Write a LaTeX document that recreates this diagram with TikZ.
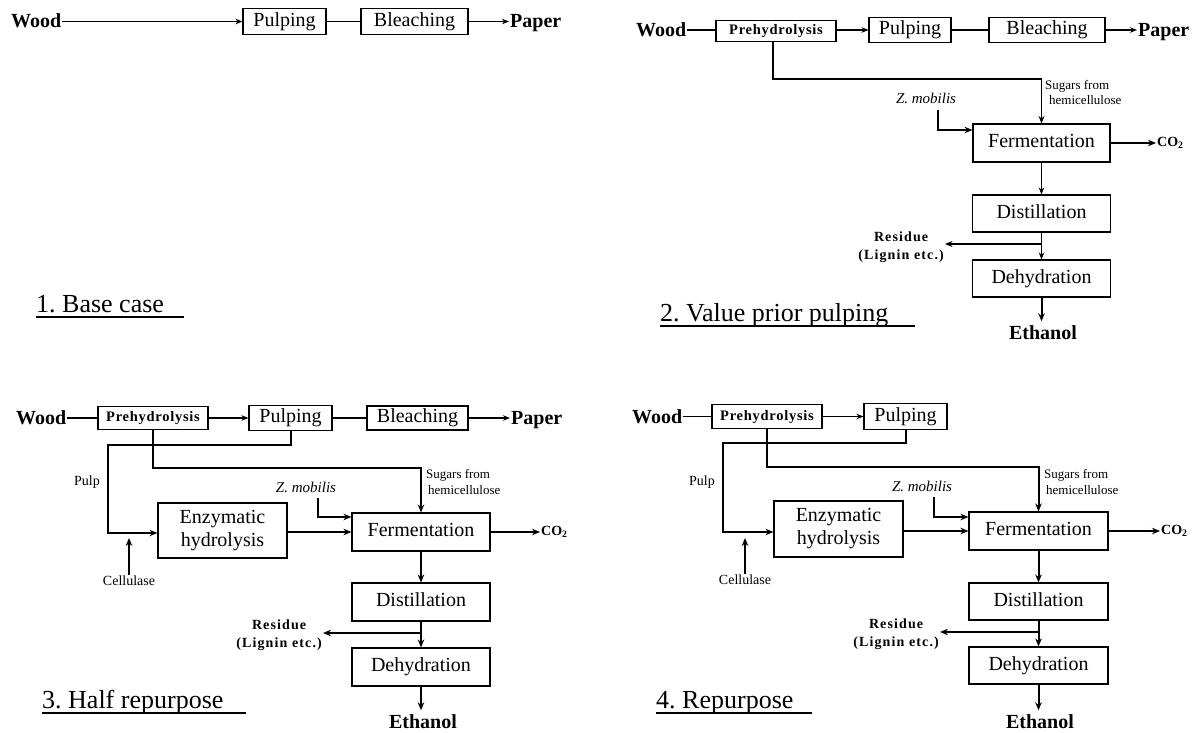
\documentclass[tikz,border=0pt]{standalone}
\usepackage{fontspec}
\setmainfont{Liberation Serif}
\newfontfamily\widefont[LetterSpace=5.0]{Liberation Serif}
\newfontfamily\widerfont[LetterSpace=8.0]{Liberation Serif}
\usetikzlibrary{arrows.meta,calc}
\frenchspacing
\begin{document}
\frenchspacing
\begin{tikzpicture}[x=1pt,y=-1pt,
  bx/.style={draw, line width=1.1pt, inner sep=0pt, font=\fontsize{20}{23}\selectfont},
  box/.style={bx, text height=14pt, text depth=4.5pt},
  pbox/.style={draw, line width=1.1pt, inner sep=0pt, text height=10pt, text depth=3pt, font=\fontsize{14.5}{16}\widefont\bfseries},
  bl/.style={inner sep=1pt, text height=13pt, text depth=0pt, font=\fontsize{20}{22}\selectfont\bfseries},
  sm/.style={inner sep=0pt, font=\fontsize{13}{15}\selectfont},
  lbl/.style={inner sep=1pt, font=\fontsize{14}{16}\selectfont},
  zm/.style={inner sep=0pt, font=\fontsize{15}{17}\selectfont\itshape},
  res/.style={inner sep=1pt, align=center, font=\fontsize{14}{18}\widerfont\bfseries},
  co/.style={inner sep=1pt, font=\fontsize{14}{16}\selectfont\bfseries},
  ttl/.style={inner sep=0pt, anchor=base west, font=\fontsize{26}{30}\selectfont},
  ul/.style={line width=1.3pt},
  thin/.style={line width=1.2pt},
  arr/.style={line width=1.3pt, -{Stealth[length=7pt,width=5.5pt]}},
  marr/.style={line width=1.6pt, -{Stealth[length=7.5pt,width=6pt]}},
  tarr/.style={line width=2pt, -{Stealth[length=8pt,width=6.5pt]}},
]
\useasboundingbox (0,0) rectangle (1202,733);

% ---------------- Panel 1 ----------------
\node[bl, anchor=west] (wood1) at (10,21.5) {Wood};
\node[box, minimum width=83pt, minimum height=26pt] (pulp1) at (284.5,21.5) {Pulping};
\node[box, minimum width=107pt, minimum height=26pt] (bleach1) at (414.5,21.5) {Bleaching};
\node[bl, anchor=west] (paper1) at (509,21.5) {Paper};
\draw[arr] (wood1) -- (pulp1);
\draw[thin] (pulp1) -- (bleach1);
\draw[arr] (bleach1) -- (paper1);
\node[ttl] (t1) at (36,312) {1. Base case};
\draw[ul] ([yshift=-5pt]t1.base west) -- ++(148,0);

% ---------------- Panel 2 ----------------
\node[bl, anchor=west] (wood2) at (635,30) {Wood};
\node[pbox, minimum width=120pt, minimum height=21pt] (preh2) at (776,31) {Prehydrolysis};
\node[box, minimum width=82pt, minimum height=25pt] (pulp2) at (910,30) {Pulping};
\node[box, minimum width=116pt, minimum height=25pt] (bleach2) at (1047,30) {Bleaching};
\node[bl, anchor=west] (paper2) at (1137,30) {Paper};
\draw[thin] (wood2.east) -- (wood2.east -| preh2.west);
\draw[arr] (preh2.east |- pulp2.west) -- (pulp2.west);
\draw[thin] (pulp2) -- (bleach2);
\draw[arr] (bleach2) -- (paper2);
\node[box, minimum width=137pt, minimum height=38pt] (ferm2) at (1041.5,143) {Fermentation};
\node[box, minimum width=138pt, minimum height=37pt] (dist2) at (1041.5,213.5) {Distillation};
\node[box, minimum width=138pt, minimum height=37pt] (dehy2) at (1041.5,278.5) {Dehydration};
\node[bl] (eth2) at (1043,333) {Ethanol};
\coordinate (sg2) at (0,79);
\draw[marr] ([xshift=-3pt]preh2.south) -- ([xshift=-3pt]preh2.south |- sg2) -| (ferm2.north);
\node[sm, anchor=west] (sug2a) at (1045,86) {Sugars from};
\node[sm, anchor=west] (sug2b) at (1049,100) {hemicellulose};
\node[zm] (zm2) at (926,98) {Z. mobilis};
\coordinate (zs2) at (938,110);
\draw[tarr] (zs2) |- ([yshift=13pt]ferm2.west);
\node[co, anchor=west] (co2b) at (1156,143) {CO\textsubscript{2}};
\draw[tarr] (ferm2.east) -- (ferm2.east -| co2b.west);
\draw[arr] (ferm2) -- (dist2);
\draw[arr] (dist2) -- (dehy2);
\coordinate (j2) at (1041.5,244);
\node[res, anchor=east] (res2) at (945,247) {Residue\\(Lignin etc.)};
\draw[marr] (j2) -- (j2 -| res2.east);
\draw[tarr] (dehy2.south) -- ([yshift=4pt]dehy2.south |- eth2.north);
\node[ttl] (t2) at (660,321) {2. Value prior pulping};
\draw[ul] ([yshift=-5pt]t2.base west) -- ++(255,0);

% ---------------- Panel 3 ----------------
\node[bl, anchor=west] (wood3) at (15,418) {Wood};
\node[pbox, minimum width=110pt, minimum height=23pt] (preh3) at (153,418) {Prehydrolysis};
\node[box, minimum width=83pt, minimum height=25pt] (pulp3) at (290.5,418) {Pulping};
\node[box, minimum width=101pt, minimum height=24pt] (bleach3) at (417.5,418) {Bleaching};
\node[bl, anchor=west] (paper3) at (510,418) {Paper};
\draw[thin] (wood3) -- (preh3);
\draw[arr] (preh3) -- (pulp3);
\draw[thin] (pulp3) -- (bleach3);
\draw[arr] (bleach3) -- (paper3);
\node[bx, align=center, minimum width=129pt, minimum height=55pt] (enz3) at (222.5,530.5) {Enzymatic\\hydrolysis};
\node[box, minimum width=138pt, minimum height=38pt] (ferm3) at (421,532) {Fermentation};
\node[box, minimum width=138pt, minimum height=38pt] (dist3) at (421,602) {Distillation};
\node[box, minimum width=138pt, minimum height=38pt] (dehy3) at (421,667) {Dehydration};
\node[bl] (eth3) at (423,722) {Ethanol};
\coordinate (pl3) at (108,445);
\draw[tarr] (pulp3.south) |- (pl3) |- ([yshift=-2.5pt]enz3.west);
\coordinate (sg3) at (0,468);
\draw[tarr] (preh3.south) -- (preh3.south |- sg3) -| (ferm3.north);
\node[lbl] (pulpl3) at (87,482) {Pulp};
\node[zm] (zm3) at (306,487) {Z. mobilis};
\coordinate (zs3) at (318,498);
\draw[tarr] (zs3) |- ([yshift=15pt]ferm3.west);
\node[sm, anchor=west] (sug3a) at (426,475) {Sugars from};
\node[sm, anchor=west] (sug3b) at (428,490) {hemicellulose};
\draw[tarr] (enz3.east |- ferm3.west) -- (ferm3.west);
\node[co, anchor=west] (co3) at (540,532) {CO\textsubscript{2}};
\draw[tarr] (ferm3.east) -- (ferm3.east -| co3.west);
\draw[tarr] (ferm3) -- (dist3);
\draw[tarr] (dist3) -- (dehy3);
\coordinate (j3) at (421,633);
\node[res, anchor=east] (res3) at (323,635) {Residue\\(Lignin etc.)};
\draw[tarr] (j3) -- (j3 -| res3.east);
\draw[tarr] (dehy3.south) -- ([yshift=4pt]dehy3.south |- eth3.north);
\node[lbl] (cel3) at (129,581) {Cellulase};
\coordinate (ce3) at (0,538);
\draw[tarr] (cel3.north) -- (cel3.north |- ce3);
\node[ttl] (t3) at (42,708) {3. Half repurpose};
\draw[ul] ([yshift=-5pt]t3.base west) -- ++(204,0);

% ---------------- Panel 4 ----------------
\node[bl, anchor=west] (wood4) at (631,416.5) {Wood};
\node[pbox, minimum width=110pt, minimum height=24pt] (preh4) at (767,416.5) {Prehydrolysis};
\node[box, minimum width=83pt, minimum height=26pt] (pulp4) at (905.5,416.5) {Pulping};
\draw[thin] (wood4) -- (preh4);
\draw[arr] (preh4) -- (pulp4);
\node[bx, align=center, minimum width=129pt, minimum height=56pt] (enz4) at (838.5,529) {Enzymatic\\hydrolysis};
\node[box, minimum width=139pt, minimum height=38pt] (ferm4) at (1038.5,531) {Fermentation};
\node[box, minimum width=139pt, minimum height=37pt] (dist4) at (1038.5,601.5) {Distillation};
\node[box, minimum width=139pt, minimum height=37pt] (dehy4) at (1038.5,665.5) {Dehydration};
\node[bl] (eth4) at (1040,722) {Ethanol};
\coordinate (pl4) at (723,443);
\draw[tarr] (pulp4.south) |- (pl4) |- ([yshift=-3pt]enz4.west);
\coordinate (sg4) at (0,467);
\draw[tarr] (preh4.south) -- (preh4.south |- sg4) -| (ferm4.north);
\node[lbl] (pulpl4) at (702,482) {Pulp};
\node[zm] (zm4) at (922,486) {Z. mobilis};
\coordinate (zs4) at (934,497);
\draw[tarr] (zs4) |- ([yshift=14pt]ferm4.west);
\node[sm, anchor=west] (sug4a) at (1044,475) {Sugars from};
\node[sm, anchor=west] (sug4b) at (1046,490) {hemicellulose};
\draw[tarr] (enz4.east |- ferm4.west) -- (ferm4.west);
\node[co, anchor=west] (co4) at (1160,531) {CO\textsubscript{2}};
\draw[tarr] (ferm4.east) -- (ferm4.east -| co4.west);
\draw[tarr] (ferm4) -- (dist4);
\draw[tarr] (dist4) -- (dehy4);
\coordinate (j4) at (1038.5,632);
\node[res, anchor=east] (res4) at (940,634) {Residue\\(Lignin etc.)};
\draw[tarr] (j4) -- (j4 -| res4.east);
\draw[tarr] (dehy4.south) -- ([yshift=4pt]dehy4.south |- eth4.north);
\node[lbl] (cel4) at (745,580) {Cellulase};
\coordinate (ce4) at (0,538);
\draw[tarr] (cel4.north) -- (cel4.north |- ce4);
\node[ttl] (t4) at (656,708) {4. Repurpose};
\draw[ul] ([yshift=-5pt]t4.base west) -- ++(156,0);
\end{tikzpicture}
\end{document}
